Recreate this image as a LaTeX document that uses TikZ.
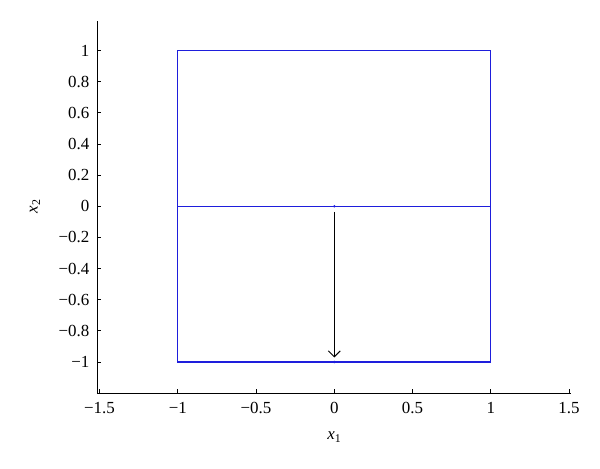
\documentclass[tikz,border=0pt]{standalone}
\usepackage{fontspec}
\setmainfont{Liberation Serif}
\usetikzlibrary{arrows.meta}
\definecolor{plotblue}{RGB}{30,30,220}
\begin{document}
\begin{tikzpicture}[x=156.5bp,y=155.7bp,
  every node/.style={font=\fontsize{17}{20}\selectfont},
  axis/.style={line width=1.1bp},
  tickmark/.style={line width=0.9bp},
  box/.style={draw=plotblue,line width=1.1bp},
  xtick/.style={below=9bp,inner sep=0pt},
  ytick/.style={left=8bp,inner sep=0pt}]

\useasboundingbox (-2.136,-1.681) rectangle (1.698,1.325);

% axes
\coordinate (top) at (-1.513,1.19);
\coordinate (corner) at (-1.513,-1.2);
\coordinate (right) at (1.51,-1.2);
\draw[axis] (top) -- (corner) -- (right);

% x ticks
\draw[tickmark] (-1.5,-1.2) -- ++(0,4bp);
\draw[tickmark] (-1,-1.2) -- ++(0,4bp);
\draw[tickmark] (-0.5,-1.2) -- ++(0,4bp);
\draw[tickmark] (0,-1.2) -- ++(0,4bp);
\draw[tickmark] (0.5,-1.2) -- ++(0,4bp);
\draw[tickmark] (1,-1.2) -- ++(0,4bp);
\draw[tickmark] (1.5,-1.2) -- ++(0,4bp);

\node[xtick] (xt1) at (-1.5,-1.2) {−1.5};
\node[xtick] (xt2) at (-1,-1.2) {−1};
\node[xtick] (xt3) at (-0.5,-1.2) {−0.5};
\node[xtick] (xt4) at (0,-1.2) {0};
\node[xtick] (xt5) at (0.5,-1.2) {0.5};
\node[xtick] (xt6) at (1,-1.2) {1};
\node[xtick] (xt7) at (1.5,-1.2) {1.5};

% y ticks
\draw[tickmark] (-1.513,1) -- ++(4bp,0);
\draw[tickmark] (-1.513,0.8) -- ++(4bp,0);
\draw[tickmark] (-1.513,0.6) -- ++(4bp,0);
\draw[tickmark] (-1.513,0.4) -- ++(4bp,0);
\draw[tickmark] (-1.513,0.2) -- ++(4bp,0);
\draw[tickmark] (-1.513,0) -- ++(4bp,0);
\draw[tickmark] (-1.513,-0.2) -- ++(4bp,0);
\draw[tickmark] (-1.513,-0.4) -- ++(4bp,0);
\draw[tickmark] (-1.513,-0.6) -- ++(4bp,0);
\draw[tickmark] (-1.513,-0.8) -- ++(4bp,0);
\draw[tickmark] (-1.513,-1) -- ++(4bp,0);

\node[ytick] (yt1) at (-1.513,1) {1};
\node[ytick] (yt2) at (-1.513,0.8) {0.8};
\node[ytick] (yt3) at (-1.513,0.6) {0.6};
\node[ytick] (yt4) at (-1.513,0.4) {0.4};
\node[ytick] (yt5) at (-1.513,0.2) {0.2};
\node[ytick] (yt6) at (-1.513,0) {0};
\node[ytick] (yt7) at (-1.513,-0.2) {−0.2};
\node[ytick] (yt8) at (-1.513,-0.4) {−0.4};
\node[ytick] (yt9) at (-1.513,-0.6) {−0.6};
\node[ytick] (yt10) at (-1.513,-0.8) {−0.8};
\node[ytick] (yt11) at (-1.513,-1) {−1};

% axis labels
\node (xlabel) at (0,-1.482) {\textit{x}\textsubscript{1}};
\node[rotate=90] (ylabel) at (-1.912,0) {\textit{x}\textsubscript{2}};

% box
\draw[box] (-1,-1) rectangle (1,1);
\draw[box] (-1,0) -- (1,0);

% points and arrow
\coordinate (p0) at (0,0);
\coordinate (p1) at (0,-1);
\fill[plotblue] (p0) circle (1.3bp);
\fill[plotblue] (p1) circle (1.3bp);
\draw[line width=0.9bp,-{Straight Barb[length=6bp,width=12bp]},shorten <=5.5bp,shorten >=4.5bp] (p0) -- (p1);

\end{tikzpicture}
\end{document}
